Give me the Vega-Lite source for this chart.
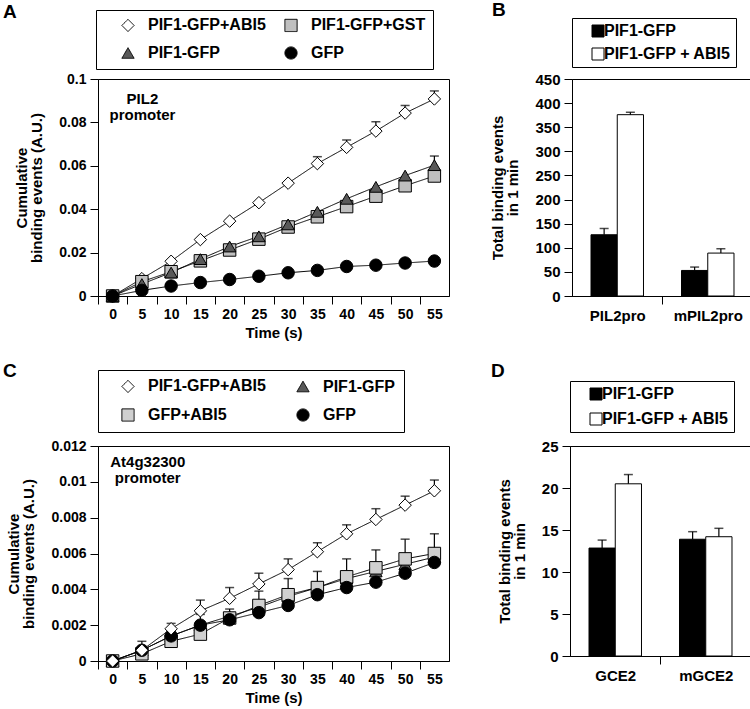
{
  "$schema": "https://vega.github.io/schema/vega-lite/v6.json",
  "padding": {"left": 2, "top": 0, "right": 0, "bottom": 0},
  "config": {
    "font": "Liberation Sans",
    "view": {"stroke": "black", "strokeWidth": 1},
    "axis": {"grid": false, "domainColor": "black", "tickColor": "black", "labelColor": "black", "titleColor": "black", "labelFont": "Liberation Sans", "titleFont": "Liberation Sans", "labelFontSize": 14, "labelFontWeight": "bold", "titleFontSize": 15, "titleFontWeight": "bold", "tickSize": 8, "labelPadding": 3, "titleLineHeight": 15, "labelFlush": false, "labelOverlap": false},
    "axisY": {"titlePadding": 14, "labelPadding": 4},
    "axisX": {"titlePadding": 4},
    "legend": {"labelFont": "Liberation Sans", "labelFontSize": 16, "labelFontWeight": "bold", "labelColor": "black", "strokeColor": "black", "labelLimit": 400},
    "title": {"anchor": "start", "frame": "group", "fontSize": 19, "fontWeight": "bold", "font": "Liberation Sans", "color": "black"}
  },
  "resolve": {"scale": {"fill": "independent", "shape": "independent", "strokeDash": "independent"}, "legend": {"fill": "independent", "shape": "independent", "strokeDash": "independent"}},
  "vconcat": [
    {
      "resolve": {"scale": {"fill": "independent", "shape": "independent", "strokeDash": "independent"}, "legend": {"fill": "independent", "shape": "independent", "strokeDash": "independent"}},
      "hconcat": [
        {
          "width": 351, "height": 217,
          "title": {"text": "A", "dx": -95, "offset": -12},
          "data": {"values": [
            {"Time": 0, "Series": "PIF1-GFP+ABI5", "Value": 0},
            {"Time": 5, "Series": "PIF1-GFP+ABI5", "Value": 0.008},
            {"Time": 10, "Series": "PIF1-GFP+ABI5", "Value": 0.016},
            {"Time": 15, "Series": "PIF1-GFP+ABI5", "Value": 0.026},
            {"Time": 20, "Series": "PIF1-GFP+ABI5", "Value": 0.0345},
            {"Time": 25, "Series": "PIF1-GFP+ABI5", "Value": 0.043},
            {"Time": 30, "Series": "PIF1-GFP+ABI5", "Value": 0.052},
            {"Time": 35, "Series": "PIF1-GFP+ABI5", "Value": 0.061, "Upper": 0.0642},
            {"Time": 40, "Series": "PIF1-GFP+ABI5", "Value": 0.0685, "Upper": 0.0719},
            {"Time": 45, "Series": "PIF1-GFP+ABI5", "Value": 0.076, "Upper": 0.0803},
            {"Time": 50, "Series": "PIF1-GFP+ABI5", "Value": 0.0843, "Upper": 0.0878},
            {"Time": 55, "Series": "PIF1-GFP+ABI5", "Value": 0.0908, "Upper": 0.0945},
            {"Time": 0, "Series": "PIF1-GFP+GST", "Value": 0},
            {"Time": 5, "Series": "PIF1-GFP+GST", "Value": 0.0066},
            {"Time": 10, "Series": "PIF1-GFP+GST", "Value": 0.0112},
            {"Time": 15, "Series": "PIF1-GFP+GST", "Value": 0.0162},
            {"Time": 20, "Series": "PIF1-GFP+GST", "Value": 0.0212},
            {"Time": 25, "Series": "PIF1-GFP+GST", "Value": 0.0262},
            {"Time": 30, "Series": "PIF1-GFP+GST", "Value": 0.0318},
            {"Time": 35, "Series": "PIF1-GFP+GST", "Value": 0.0365},
            {"Time": 40, "Series": "PIF1-GFP+GST", "Value": 0.0412},
            {"Time": 45, "Series": "PIF1-GFP+GST", "Value": 0.046},
            {"Time": 50, "Series": "PIF1-GFP+GST", "Value": 0.0508},
            {"Time": 55, "Series": "PIF1-GFP+GST", "Value": 0.0553},
            {"Time": 0, "Series": "PIF1-GFP", "Value": 0},
            {"Time": 5, "Series": "PIF1-GFP", "Value": 0.0055},
            {"Time": 10, "Series": "PIF1-GFP", "Value": 0.0108},
            {"Time": 15, "Series": "PIF1-GFP", "Value": 0.017},
            {"Time": 20, "Series": "PIF1-GFP", "Value": 0.0228},
            {"Time": 25, "Series": "PIF1-GFP", "Value": 0.0275},
            {"Time": 30, "Series": "PIF1-GFP", "Value": 0.033},
            {"Time": 35, "Series": "PIF1-GFP", "Value": 0.0388},
            {"Time": 40, "Series": "PIF1-GFP", "Value": 0.0448},
            {"Time": 45, "Series": "PIF1-GFP", "Value": 0.0503},
            {"Time": 50, "Series": "PIF1-GFP", "Value": 0.0555},
            {"Time": 55, "Series": "PIF1-GFP", "Value": 0.0603, "Upper": 0.0645},
            {"Time": 0, "Series": "GFP", "Value": 0},
            {"Time": 5, "Series": "GFP", "Value": 0.0026},
            {"Time": 10, "Series": "GFP", "Value": 0.0046},
            {"Time": 15, "Series": "GFP", "Value": 0.0062},
            {"Time": 20, "Series": "GFP", "Value": 0.0076},
            {"Time": 25, "Series": "GFP", "Value": 0.0091},
            {"Time": 30, "Series": "GFP", "Value": 0.0107},
            {"Time": 35, "Series": "GFP", "Value": 0.0118},
            {"Time": 40, "Series": "GFP", "Value": 0.0136},
            {"Time": 45, "Series": "GFP", "Value": 0.0142},
            {"Time": 50, "Series": "GFP", "Value": 0.0152},
            {"Time": 55, "Series": "GFP", "Value": 0.0161}
          ]},
          "encoding": {
            "x": {"field": "Time", "type": "quantitative", "title": "Time (s)", "scale": {"domain": [-2.5, 57.5], "nice": false, "zero": false}, "axis": {"values": [0, 5, 10, 15, 20, 25, 30, 35, 40, 45, 50, 55], "format": "d", "tickOffset": -14.625, "labelOffset": 14.625}},
            "y": {"field": "Value", "type": "quantitative", "title": ["Cumulative", "binding events (A.U.)"], "scale": {"domain": [0, 0.1], "nice": false}, "axis": {"values": [0, 0.02, 0.04, 0.06, 0.08, 0.1], "format": "~g"}}
          },
          "layer": [
            {"transform": [{"filter": "isValid(datum.Upper)"}], "mark": {"type": "rule", "color": "black", "strokeWidth": 1.2}, "encoding": {"y2": {"field": "Upper"}}},
            {"transform": [{"filter": "isValid(datum.Upper)"}], "mark": {"type": "tick", "orient": "horizontal", "size": 9, "thickness": 1.5, "color": "black"}, "encoding": {"y": {"field": "Upper", "type": "quantitative", "title": ["Cumulative", "binding events (A.U.)"]}}},
            {"mark": {"type": "line", "color": "black", "strokeWidth": 1},
             "encoding": {
               "detail": {"field": "Series"},
               "strokeDash": {"field": "Series", "type": "nominal", "scale": {"domain": ["PIF1-GFP+ABI5", "PIF1-GFP+GST", "PIF1-GFP", "GFP"], "range": [[1, 0], [1, 0], [1, 0], [1, 0]]},
                 "legend": {"title": null, "orient": "none", "legendX": -2, "legendY": -69, "columns": 2, "direction": "horizontal", "padding": 7, "symbolSize": 150, "symbolOffset": 17, "labelOffset": 12, "columnPadding": -9, "rowPadding": 10, "symbolStrokeColor": "black", "symbolStrokeWidth": 1, "labelExpr": "datum.label === 'PIF1-GFP+GST' ? datum.label + '  ' : datum.label",
                   "encode": {"symbols": {"update": {
                     "shape": {"signal": "datum.value === 'PIF1-GFP+ABI5' ? 'M-2.6,0L-1,0M1,0L2.6,0M0,-1L1,0L0,1L-1,0Z' : datum.value === 'PIF1-GFP' ? 'M-2.6,0L-0.57,0M0.57,0L2.6,0M0,-1L1,0.75L-1,0.75Z' : datum.value === 'GFP' ? 'M-2.6,0L-0.9,0M0.9,0L2.6,0M0.9,0A0.9,0.9 0 1,1 -0.9,0A0.9,0.9 0 1,1 0.9,0Z' : 'M-2.6,0L-0.85,0M0.85,0L2.6,0M-0.85,-0.85L0.85,-0.85L0.85,0.85L-0.85,0.85Z'"},
                     "fill": {"signal": "datum.value === 'PIF1-GFP+ABI5' ? 'white' : datum.value === 'PIF1-GFP+GST' ? '#bfbfbf' : datum.value === 'PIF1-GFP' ? '#595959' : 'black'"},
                     "stroke": {"value": "black"}, "strokeWidth": {"value": 1}, "size": {"value": 150}, "opacity": {"value": 1}}}}}}
             }},
            {"mark": {"type": "point", "filled": true, "opacity": 1, "stroke": "black", "strokeWidth": 1, "size": 155},
             "encoding": {
               "shape": {"field": "Series", "type": "nominal", "scale": {"domain": ["PIF1-GFP+ABI5", "PIF1-GFP+GST", "PIF1-GFP", "GFP"], "range": ["diamond", "square", "triangle-up", "circle"]}, "legend": null},
               "fill": {"field": "Series", "type": "nominal", "scale": {"domain": ["PIF1-GFP+ABI5", "PIF1-GFP+GST", "PIF1-GFP", "GFP"], "range": ["white", "#bfbfbf", "#595959", "black"]}, "legend": null}
             }},
            {"data": {"values": [{"Time": 5.1, "Value": 0.094, "Label": "PIL2\npromoter"}]},
             "mark": {"type": "text", "lineBreak": "\n", "align": "center", "baseline": "top", "fontSize": 15, "fontWeight": "bold", "font": "Liberation Sans", "lineHeight": 16, "color": "black"},
             "encoding": {"text": {"field": "Label"}}}
          ]
        },
        {
          "width": 181, "height": 217,
          "title": {"text": "B", "dx": -80, "offset": -2},
          "data": {"values": [
            {"Promoter": "PIL2pro", "Protein": "PIF1-GFP", "Value": 127, "Upper": 140},
            {"Promoter": "PIL2pro", "Protein": "PIF1-GFP + ABI5", "Value": 376, "Upper": 381},
            {"Promoter": "mPIL2pro", "Protein": "PIF1-GFP", "Value": 53, "Upper": 60},
            {"Promoter": "mPIL2pro", "Protein": "PIF1-GFP + ABI5", "Value": 89, "Upper": 98}
          ]},
          "encoding": {
            "x": {"field": "Promoter", "type": "nominal", "sort": ["PIL2pro", "mPIL2pro"], "title": null, "scale": {"paddingInner": 0.42, "paddingOuter": 0.21}, "axis": {"labelAngle": 0, "tickOffset": 45, "labelOffset": -45, "labelFontSize": 15, "labelPadding": 4}},
            "xOffset": {"field": "Protein", "type": "nominal", "sort": ["PIF1-GFP", "PIF1-GFP + ABI5"], "scale": {"paddingInner": 0, "paddingOuter": 0}},
            "y": {"field": "Value", "type": "quantitative", "title": ["Total binding events", "in 1 min"], "scale": {"domain": [0, 450], "nice": false}, "axis": {"values": [0, 50, 100, 150, 200, 250, 300, 350, 400, 450], "labelFontSize": 15}}
          },
          "layer": [
            {"mark": {"type": "bar", "stroke": "black", "strokeWidth": 1},
             "encoding": {"fill": {"field": "Protein", "type": "nominal", "scale": {"domain": ["PIF1-GFP", "PIF1-GFP + ABI5"], "range": ["black", "white"]},
               "legend": {"title": null, "orient": "none", "legendX": 0, "legendY": -61, "padding": 5, "symbolType": "square", "symbolSize": 144, "symbolStrokeColor": "black", "symbolStrokeWidth": 1, "symbolOffset": 13, "labelOffset": -2, "rowPadding": 7, "labelExpr": "datum.label + '   '"}}}},
            {"mark": {"type": "rule", "color": "black", "strokeWidth": 1.2}, "encoding": {"y": {"field": "Upper", "type": "quantitative", "title": ["Total binding events", "in 1 min"]}, "y2": {"field": "Value"}}},
            {"mark": {"type": "tick", "orient": "horizontal", "size": 9, "thickness": 1.5, "color": "black"}, "encoding": {"y": {"field": "Upper", "type": "quantitative", "title": ["Total binding events", "in 1 min"]}}}
          ]
        }
      ],
      "spacing": 40
    },
    {
      "resolve": {"scale": {"fill": "independent", "shape": "independent", "strokeDash": "independent"}, "legend": {"fill": "independent", "shape": "independent", "strokeDash": "independent"}},
      "hconcat": [
        {
          "width": 351, "height": 215,
          "title": {"text": "C", "dx": -95, "offset": -11},
          "data": {"values": [
            {"Time": 0, "Series": "PIF1-GFP", "Value": 0},
            {"Time": 5, "Series": "PIF1-GFP", "Value": 0.0006},
            {"Time": 10, "Series": "PIF1-GFP", "Value": 0.0014},
            {"Time": 15, "Series": "PIF1-GFP", "Value": 0.002, "Upper": 0.0026},
            {"Time": 20, "Series": "PIF1-GFP", "Value": 0.0025, "Upper": 0.0029},
            {"Time": 25, "Series": "PIF1-GFP", "Value": 0.003},
            {"Time": 30, "Series": "PIF1-GFP", "Value": 0.0036},
            {"Time": 35, "Series": "PIF1-GFP", "Value": 0.0041},
            {"Time": 40, "Series": "PIF1-GFP", "Value": 0.0046},
            {"Time": 45, "Series": "PIF1-GFP", "Value": 0.005},
            {"Time": 50, "Series": "PIF1-GFP", "Value": 0.0054},
            {"Time": 55, "Series": "PIF1-GFP", "Value": 0.0058},
            {"Time": 0, "Series": "GFP+ABI5", "Value": 0},
            {"Time": 5, "Series": "GFP+ABI5", "Value": 0.0004},
            {"Time": 10, "Series": "GFP+ABI5", "Value": 0.0011},
            {"Time": 15, "Series": "GFP+ABI5", "Value": 0.0015},
            {"Time": 20, "Series": "GFP+ABI5", "Value": 0.0024},
            {"Time": 25, "Series": "GFP+ABI5", "Value": 0.0031, "Upper": 0.0039},
            {"Time": 30, "Series": "GFP+ABI5", "Value": 0.0037, "Upper": 0.0046},
            {"Time": 35, "Series": "GFP+ABI5", "Value": 0.0041, "Upper": 0.005},
            {"Time": 40, "Series": "GFP+ABI5", "Value": 0.0047, "Upper": 0.0057},
            {"Time": 45, "Series": "GFP+ABI5", "Value": 0.0052, "Upper": 0.0062},
            {"Time": 50, "Series": "GFP+ABI5", "Value": 0.0057, "Upper": 0.0068},
            {"Time": 55, "Series": "GFP+ABI5", "Value": 0.006, "Upper": 0.0071},
            {"Time": 0, "Series": "GFP", "Value": 0},
            {"Time": 5, "Series": "GFP", "Value": 0.0006},
            {"Time": 10, "Series": "GFP", "Value": 0.0014},
            {"Time": 15, "Series": "GFP", "Value": 0.002},
            {"Time": 20, "Series": "GFP", "Value": 0.0023},
            {"Time": 25, "Series": "GFP", "Value": 0.0027},
            {"Time": 30, "Series": "GFP", "Value": 0.0031},
            {"Time": 35, "Series": "GFP", "Value": 0.0037},
            {"Time": 40, "Series": "GFP", "Value": 0.0041},
            {"Time": 45, "Series": "GFP", "Value": 0.0044},
            {"Time": 50, "Series": "GFP", "Value": 0.0049},
            {"Time": 55, "Series": "GFP", "Value": 0.0055},
            {"Time": 0, "Series": "PIF1-GFP+ABI5", "Value": 0},
            {"Time": 5, "Series": "PIF1-GFP+ABI5", "Value": 0.0006, "Upper": 0.0011},
            {"Time": 10, "Series": "PIF1-GFP+ABI5", "Value": 0.0018, "Upper": 0.0021},
            {"Time": 15, "Series": "PIF1-GFP+ABI5", "Value": 0.0028, "Upper": 0.0034},
            {"Time": 20, "Series": "PIF1-GFP+ABI5", "Value": 0.0035, "Upper": 0.0041},
            {"Time": 25, "Series": "PIF1-GFP+ABI5", "Value": 0.0043, "Upper": 0.0049},
            {"Time": 30, "Series": "PIF1-GFP+ABI5", "Value": 0.0051, "Upper": 0.0057},
            {"Time": 35, "Series": "PIF1-GFP+ABI5", "Value": 0.0061, "Upper": 0.0066},
            {"Time": 40, "Series": "PIF1-GFP+ABI5", "Value": 0.0071, "Upper": 0.0076},
            {"Time": 45, "Series": "PIF1-GFP+ABI5", "Value": 0.0079, "Upper": 0.0085},
            {"Time": 50, "Series": "PIF1-GFP+ABI5", "Value": 0.0087, "Upper": 0.0092},
            {"Time": 55, "Series": "PIF1-GFP+ABI5", "Value": 0.0095, "Upper": 0.0101}
          ]},
          "encoding": {
            "x": {"field": "Time", "type": "quantitative", "title": "Time (s)", "scale": {"domain": [-2.5, 57.5], "nice": false, "zero": false}, "axis": {"values": [0, 5, 10, 15, 20, 25, 30, 35, 40, 45, 50, 55], "format": "d", "tickOffset": -14.625, "labelOffset": 14.625}},
            "y": {"field": "Value", "type": "quantitative", "title": ["Cumulative", "binding events (A.U.)"], "scale": {"domain": [0, 0.012], "nice": false}, "axis": {"values": [0, 0.002, 0.004, 0.006, 0.008, 0.01, 0.012], "format": "~g"}}
          },
          "layer": [
            {"transform": [{"filter": "isValid(datum.Upper)"}], "mark": {"type": "rule", "color": "black", "strokeWidth": 1.2}, "encoding": {"y2": {"field": "Upper"}}},
            {"transform": [{"filter": "isValid(datum.Upper)"}], "mark": {"type": "tick", "orient": "horizontal", "size": 9, "thickness": 1.5, "color": "black"}, "encoding": {"y": {"field": "Upper", "type": "quantitative", "title": ["Cumulative", "binding events (A.U.)"]}}},
            {"mark": {"type": "line", "color": "black", "strokeWidth": 1},
             "encoding": {
               "detail": {"field": "Series"},
               "strokeDash": {"field": "Series", "type": "nominal", "scale": {"domain": ["PIF1-GFP+ABI5", "PIF1-GFP", "GFP+ABI5", "GFP"], "range": [[1, 0], [1, 0], [1, 0], [1, 0]]},
                 "legend": {"title": null, "orient": "none", "legendX": 0, "legendY": -76, "columns": 2, "direction": "horizontal", "padding": 8, "symbolSize": 150, "symbolOffset": 14, "labelOffset": 12, "columnPadding": 15, "rowPadding": 11, "symbolStrokeColor": "black", "symbolStrokeWidth": 1, "labelExpr": "datum.label === 'PIF1-GFP' ? datum.label + '         ' : datum.label",
                   "encode": {"symbols": {"update": {
                     "shape": {"signal": "datum.value === 'PIF1-GFP+ABI5' ? 'M-2.6,0L-1,0M1,0L2.6,0M0,-1L1,0L0,1L-1,0Z' : datum.value === 'PIF1-GFP' ? 'M-2.6,0L-0.57,0M0.57,0L2.6,0M0,-1L1,0.75L-1,0.75Z' : datum.value === 'GFP' ? 'M-2.6,0L-0.9,0M0.9,0L2.6,0M0.9,0A0.9,0.9 0 1,1 -0.9,0A0.9,0.9 0 1,1 0.9,0Z' : 'M-2.6,0L-0.85,0M0.85,0L2.6,0M-0.85,-0.85L0.85,-0.85L0.85,0.85L-0.85,0.85Z'"},
                     "fill": {"signal": "datum.value === 'PIF1-GFP+ABI5' ? 'white' : datum.value === 'PIF1-GFP' ? '#595959' : datum.value === 'GFP+ABI5' ? '#d0d0d0' : 'black'"},
                     "stroke": {"value": "black"}, "strokeWidth": {"value": 1}, "size": {"value": 150}, "opacity": {"value": 1}}}}}}
             }},
            {"mark": {"type": "point", "filled": true, "opacity": 1, "stroke": "black", "strokeWidth": 1, "size": 155},
             "encoding": {
               "shape": {"field": "Series", "type": "nominal", "scale": {"domain": ["PIF1-GFP+ABI5", "PIF1-GFP", "GFP+ABI5", "GFP"], "range": ["diamond", "triangle-up", "square", "circle"]}, "legend": null},
               "fill": {"field": "Series", "type": "nominal", "scale": {"domain": ["PIF1-GFP+ABI5", "PIF1-GFP", "GFP+ABI5", "GFP"], "range": ["white", "#595959", "#d0d0d0", "black"]}, "legend": null}
             }},
            {"data": {"values": [{"Time": 6, "Value": 0.0115, "Label": "At4g32300\npromoter"}]},
             "mark": {"type": "text", "lineBreak": "\n", "align": "center", "baseline": "top", "fontSize": 15, "fontWeight": "bold", "font": "Liberation Sans", "lineHeight": 16, "color": "black"},
             "encoding": {"text": {"field": "Label"}}}
          ]
        },
        {
          "width": 181, "height": 210,
          "title": {"text": "D", "dx": -79, "offset": 0},
          "data": {"values": [
            {"Promoter": "GCE2", "Protein": "PIF1-GFP", "Value": 12.85, "Upper": 13.8},
            {"Promoter": "GCE2", "Protein": "PIF1-GFP + ABI5", "Value": 20.5, "Upper": 21.6},
            {"Promoter": "mGCE2", "Protein": "PIF1-GFP", "Value": 13.9, "Upper": 14.8},
            {"Promoter": "mGCE2", "Protein": "PIF1-GFP + ABI5", "Value": 14.2, "Upper": 15.2}
          ]},
          "encoding": {
            "x": {"field": "Promoter", "type": "nominal", "sort": ["GCE2", "mGCE2"], "title": null, "scale": {"paddingInner": 0.42, "paddingOuter": 0.21}, "axis": {"labelAngle": 0, "tickOffset": 45, "labelOffset": -45, "labelFontSize": 15, "labelPadding": 4}},
            "xOffset": {"field": "Protein", "type": "nominal", "sort": ["PIF1-GFP", "PIF1-GFP + ABI5"], "scale": {"paddingInner": 0, "paddingOuter": 0}},
            "y": {"field": "Value", "type": "quantitative", "title": ["Total binding events", "in 1 min"], "scale": {"domain": [0, 25], "nice": false}, "axis": {"values": [0, 5, 10, 15, 20, 25], "labelFontSize": 15}}
          },
          "layer": [
            {"mark": {"type": "bar", "stroke": "black", "strokeWidth": 1},
             "encoding": {"fill": {"field": "Protein", "type": "nominal", "scale": {"domain": ["PIF1-GFP", "PIF1-GFP + ABI5"], "range": ["black", "white"]},
               "legend": {"title": null, "orient": "none", "legendX": 0, "legendY": -65, "padding": 5, "symbolType": "square", "symbolSize": 144, "symbolStrokeColor": "black", "symbolStrokeWidth": 1, "symbolOffset": 13, "labelOffset": -2, "rowPadding": 9, "labelExpr": "datum.label + '   '"}}}},
            {"mark": {"type": "rule", "color": "black", "strokeWidth": 1.2}, "encoding": {"y": {"field": "Upper", "type": "quantitative", "title": ["Total binding events", "in 1 min"]}, "y2": {"field": "Value"}}},
            {"mark": {"type": "tick", "orient": "horizontal", "size": 9, "thickness": 1.5, "color": "black"}, "encoding": {"y": {"field": "Upper", "type": "quantitative", "title": ["Total binding events", "in 1 min"]}}}
          ]
        }
      ],
      "spacing": 40
    }
  ],
  "spacing": 20
}
